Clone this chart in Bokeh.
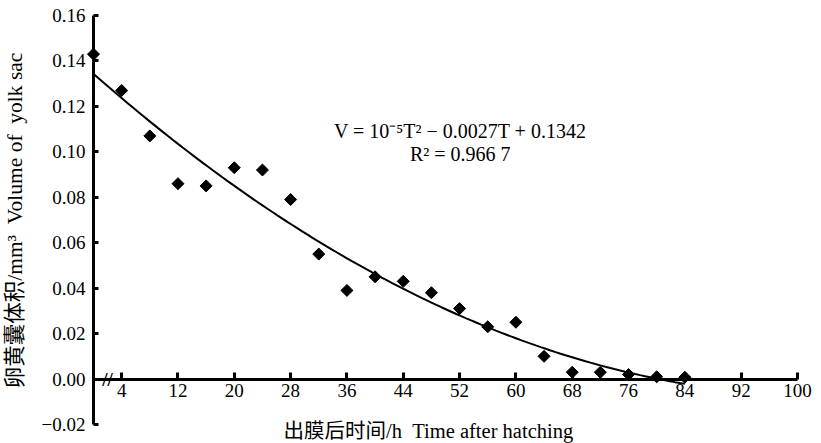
import numpy as np
from bokeh.plotting import figure
from bokeh.models import FixedTicker, CustomJSTickFormatter, Label, Range1d
from bokeh.embed import file_html
from bokeh.resources import INLINE

# ---- data ----
hours = [0, 4, 8, 12, 16, 20, 24, 28, 32, 36, 40, 44, 48, 52, 56, 60, 64, 68, 72, 76, 80, 84]
volume = [0.143, 0.127, 0.107, 0.086, 0.085, 0.093, 0.092, 0.079, 0.055, 0.039, 0.045,
          0.043, 0.038, 0.031, 0.023, 0.025, 0.010, 0.003, 0.003, 0.002, 0.001, 0.0008]
x_ticks = [4, 12, 20, 28, 36, 44, 52, 60, 68, 76, 84, 92, 100]
y_ticks = [-0.02, 0.0, 0.02, 0.04, 0.06, 0.08, 0.10, 0.12, 0.14, 0.16]
equation = "V = 10\u207b\u2075T\u00b2 \u2212 0.0027T + 0.1342"
r_squared = "R\u00b2 = 0.966 7"
x_title = "出膜后时间/h\u00a0\u00a0Time after hatching"
y_title = "卵黄囊体积/mm\u00b3\u00a0\u00a0Volume of\u00a0\u00a0yolk sac"

FONT = "'Liberation Serif', 'Noto Sans CJK SC', serif"

# the frame fills the whole canvas; both axes are pinned at 0
p = figure(width=820, height=443, output_backend="svg", toolbar_location=None,
           x_range=Range1d(-13.21, 103.27), y_range=Range1d(-0.02836, 0.1666),
           min_border=0, min_border_left=0, min_border_right=0,
           min_border_top=0, min_border_bottom=0, title=None)
p.outline_line_color = None
p.xgrid.visible = False
p.ygrid.visible = False

# trend line (quadratic least squares fit of the data)
coef = np.polyfit(hours, volume, 2)
xf = np.linspace(0, 84, 120)
p.line(xf, np.polyval(coef, xf), line_color="black", line_width=2)

p.scatter(hours, volume, marker="square", angle=np.pi / 4, size=8.5,
          fill_color="black", line_color="black")

xa = p.xaxis[0]
xa.fixed_location = 0
xa.bounds = (0, 100)
xa.ticker = FixedTicker(ticks=x_ticks)
xa.minor_tick_line_color = None
xa.major_tick_in = 7
xa.major_tick_out = 0
xa.major_tick_line_width = 3
xa.axis_line_width = 3
xa.major_label_standoff = 5
xa.major_label_text_font = FONT
xa.major_label_text_font_size = "19px"
xa.major_label_text_color = "black"

ya = p.yaxis[0]
ya.fixed_location = 0
ya.bounds = (-0.02, 0.16)
ya.ticker = FixedTicker(ticks=y_ticks)
ya.formatter = CustomJSTickFormatter(code="return (tick < -1e-9 ? '\u2212' : '') + Math.abs(tick).toFixed(2);")
ya.minor_tick_line_color = None
ya.major_tick_in = 5
ya.major_tick_out = 0
ya.major_tick_line_width = 3
ya.axis_line_width = 3
ya.major_label_standoff = 8
ya.major_label_text_font = FONT
ya.major_label_text_font_size = "19px"
ya.major_label_text_color = "black"

# axis break mark
p.add_layout(Label(x=2.0, y=0, text="//", text_align="center", text_baseline="middle",
                   text_font=FONT, text_font_size="19px", text_font_style="bold", text_color="black"))

# axis titles
p.add_layout(Label(x=27.0, y=-0.0227, text=x_title, text_align="left", text_baseline="middle",
                   text_font=FONT, text_font_size="20.5px", text_color="black"))
p.add_layout(Label(x=-11.2, y=0.0698, text=y_title, angle=np.pi / 2, text_align="center",
                   text_baseline="middle", text_font=FONT, text_font_size="21.5px", text_color="black"))

# equation
p.add_layout(Label(x=52.1, y=0.1091, text=equation, text_align="center", text_baseline="middle",
                   text_font=FONT, text_font_size="20px", text_color="black"))
p.add_layout(Label(x=52.1, y=0.0989, text=r_squared, text_align="center", text_baseline="middle",
                   text_font=FONT, text_font_size="20px", text_color="black"))

open("out.html", "w").write(file_html(p, INLINE))
